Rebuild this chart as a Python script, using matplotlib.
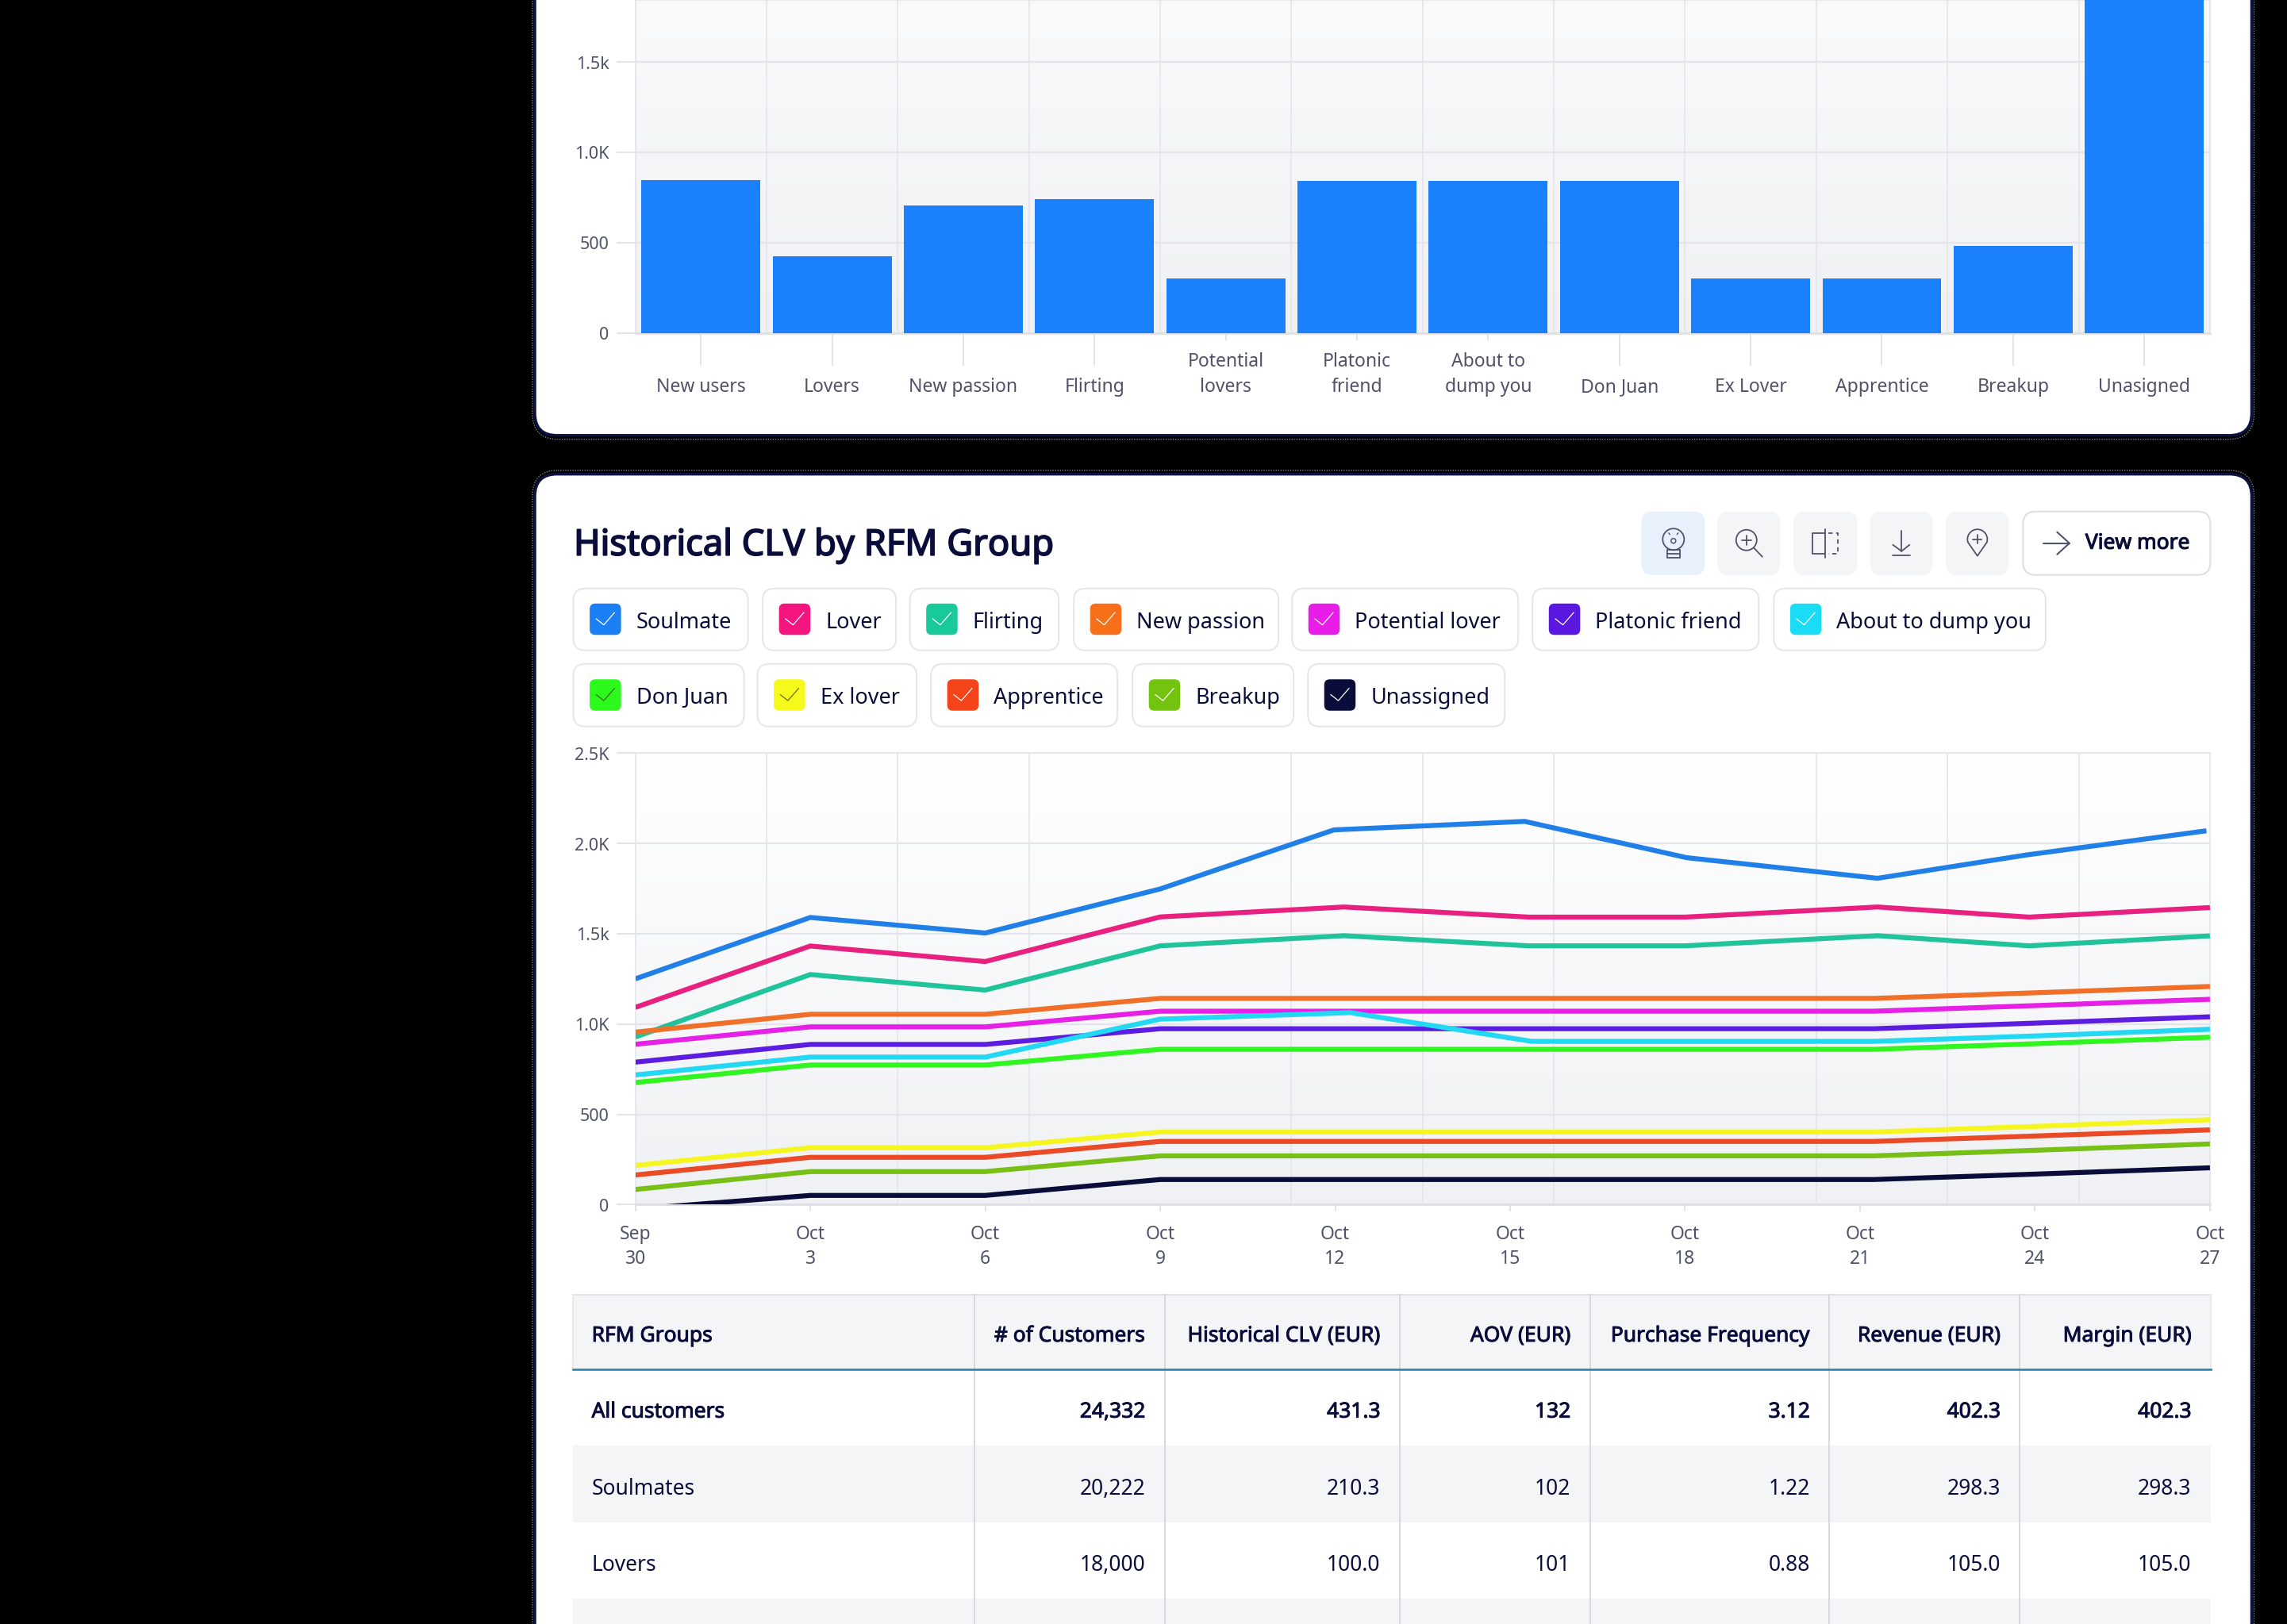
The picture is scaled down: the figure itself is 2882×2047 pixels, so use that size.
import numpy as np
import matplotlib
matplotlib.use("Agg")
import matplotlib.pyplot as plt
import matplotlib.patheffects as pe
from matplotlib.colors import LinearSegmentedColormap
from matplotlib.patches import FancyBboxPatch, Rectangle, Ellipse, Circle, Arc

plt.rcParams['font.family'] = ['Noto Sans', 'DejaVu Sans']

W, H = 2882, 2047
NAVY = "#0a0d3a"
GREY_TEXT = "#4f5269"
GRID = "#e4e5ea"
ICON = "#50536a"

# top chart
BAR_GROUPS = ["New users", "Lovers", "New passion", "Flirting", "Potential\nlovers", "Platonic\nfriend",
              "About to\ndump you", "Don Juan", "Ex Lover", "Apprentice", "Breakup", "Unasigned"]
BAR_VALUES = [848, 426, 707, 742, 303, 840, 840, 840, 303, 303, 480, 2000]
BAR_COLOR = "#1a80fb"
BAR_YTICKS = [0, 500, 1000, 1500]
BAR_YLABELS = ["0", "500", "1.0K", "1.5k"]

# bottom chart, days since Sep 30
DATE_TICKS = [0, 3, 6, 9, 12, 15, 18, 21, 24, 27]
DATE_LABELS = ["Sep\n30", "Oct\n3", "Oct\n6", "Oct\n9", "Oct\n12", "Oct\n15", "Oct\n18", "Oct\n21", "Oct\n24", "Oct\n27"]
LINE_YTICKS = [0, 500, 1000, 1500, 2000, 2500]
LINE_YLABELS = ["0", "500", "1.0K", "1.5k", "2.0K", "2.5K"]

DAYS_SOULMATE = [0, 3, 6, 9, 11.98, 15.25, 18.03, 21.3, 23.85, 26.94]
DAYS_LOVER = [0, 3, 6, 9, 12.15, 15.32, 18, 21.3, 23.9, 27]
DAYS_ABOUT = [0, 3, 6, 9, 12.26, 15.37, 18, 21.24, 24, 27]
DAYS_REST = [0, 3, 6, 9, 12, 15, 18, 21.24, 24, 27]

SOULMATE = [1250, 1590, 1504, 1748, 2075, 2122, 1921, 1807, 1936, 2070]
LOVER = [1092, 1432, 1346, 1593, 1648, 1592, 1592, 1648, 1592, 1645]
FLIRTING = [928, 1274, 1188, 1433, 1489, 1433, 1433, 1489, 1433, 1488]
NEW_PASSION = [955, 1054, 1054, 1142, 1142, 1142, 1142, 1142, 1173, 1208]
POTENTIAL = [888, 984, 984, 1071, 1071, 1071, 1071, 1071, 1102, 1137]
PLATONIC = [789, 887, 887, 974, 974, 974, 974, 974, 1005, 1040]
ABOUT = [718, 817, 817, 1027, 1063, 904, 904, 904, 934, 971]
DON_JUAN = [676, 773, 773, 860, 860, 860, 860, 860, 891, 927]
EX_LOVER = [217, 315, 315, 402, 402, 402, 402, 402, 433, 470]
APPRENTICE = [164, 262, 262, 350, 350, 350, 350, 350, 380, 414]
BREAKUP = [84, 183, 183, 270, 270, 270, 270, 270, 301, 336]
UNASSIGNED = [-25, 51, 51, 139, 139, 139, 139, 139, 169, 204]

SERIES = [
    (DAYS_SOULMATE, SOULMATE, "#2180e8"),
    (DAYS_LOVER, LOVER, "#e8207f"),
    (DAYS_LOVER, FLIRTING, "#20c39a"),
    (DAYS_REST, NEW_PASSION, "#f0702a"),
    (DAYS_REST, POTENTIAL, "#e620e6"),
    (DAYS_REST, PLATONIC, "#5c1de0"),
    (DAYS_ABOUT, ABOUT, "#22d8f2"),
    (DAYS_REST, DON_JUAN, "#30f520"),
    (DAYS_REST, EX_LOVER, "#f5f520"),
    (DAYS_REST, APPRENTICE, "#ea4a25"),
    (DAYS_REST, BREAKUP, "#78bf18"),
    (DAYS_REST, UNASSIGNED, NAVY),
]

# legend chips
CHIP_NAMES = [["Soulmate", "Lover", "Flirting", "New passion", "Potential lover", "Platonic friend", "About to dump you"],
              ["Don Juan", "Ex lover", "Apprentice", "Breakup", "Unassigned"]]
CHIP_COLORS = [["#1b80f5", "#f5157f", "#18c99b", "#f77019", "#e81de8", "#5a17e0", "#1adcf5"],
               ["#2bfa1a", "#f5fa1a", "#f5431a", "#74c40f", NAVY]]
CHIP_EDGES = [[(722.5, 942.5), (961, 1129), (1146.5, 1334), (1353, 1611), (1628, 1913), (1931, 2216), (2235, 2577.5)],
              [(722.5, 937.5), (954.5, 1155), (1173, 1408), (1427, 1630), (1648, 1896)]]
CHIP_ROWS = [(742, 820), (837, 916)]

# table
TABLE_COLUMNS = ["RFM Groups", "# of Customers", "Historical CLV (EUR)", "AOV (EUR)", "Purchase Frequency", "Revenue (EUR)", "Margin (EUR)"]
TABLE_ROWS = [
    ["All customers", "24,332", "431.3", "132", "3.12", "402.3", "402.3"],
    ["Soulmates", "20,222", "210.3", "102", "1.22", "298.3", "298.3"],
    ["Lovers", "18,000", "100.0", "101", "0.88", "105.0", "105.0"],
]
COL_EDGES = [721.5, 1227.5, 1467.5, 1763.5, 2003.5, 2305, 2545, 2785.5]
ROW_EDGES = [1632, 1726, 1822.5, 1919, 2015, 2060]

fig = plt.figure(figsize=((W + 0.4) / 100, (H + 0.4) / 100), dpi=100, facecolor="black")

bg = fig.add_axes([0, 0, 1, 1], zorder=0)
bg.set_xlim(0, W)
bg.set_ylim(H, 0)
bg.axis("off")


def round_box(x0, y0, x1, y1, r, fc, ec="none", lw=0, ls="-", z=1):
    p = FancyBboxPatch((x0 + r, y0 + r), x1 - x0 - 2 * r, y1 - y0 - 2 * r, boxstyle=f"round,pad={r},rounding_size={r}",
                       fc=fc, ec=ec, lw=lw, ls=ls, zorder=z)
    bg.add_patch(p)
    return p


def icon_line(xs, ys, lw=1.3, color=ICON):
    bg.plot(xs, ys, color=color, lw=lw, solid_capstyle="round", zorder=4)


def label(x, y, s, size=19, heavy=0, ha="left", z=6):
    # Noto Sans only has the regular weight here, so thicken it with a stroke
    t = bg.text(x, y + 4, s, fontsize=size, color=NAVY, va="center", ha=ha, zorder=z)
    if heavy:
        t.set_path_effects([pe.withStroke(linewidth=heavy, foreground=NAVY)])
    return t


def chart_axes(left, top, right, bottom):
    return fig.add_axes([left / W, 1 - bottom / H, (right - left) / W, (bottom - top) / H], zorder=2)


def style_chart(ax, start="#ffffff"):
    grad = LinearSegmentedColormap.from_list("plotbg", [start, "#f0f1f4"])
    ax.imshow(np.linspace(0, 1, 256).reshape(-1, 1), cmap=grad, extent=[0, 1, 0, 1], transform=ax.transAxes,
              aspect="auto", zorder=0)
    ax.set_axisbelow(True)
    ax.grid(True, axis="y", color=GRID, lw=1.6)
    ax.grid(True, axis="x", which="minor", color=GRID, lw=1.2)
    ax.grid(False, axis="x", which="major")
    ax.tick_params(axis="x", which="minor", length=0)
    ax.tick_params(axis="y", length=17.3, width=1.4, color=GRID, pad=6.5, labelsize=15.5, labelcolor=GREY_TEXT)
    for name, spine in ax.spines.items():
        spine.set_color(GRID)
        spine.set_linewidth(1.2)
    ax.spines["bottom"].set_linewidth(2)
    ax.spines["bottom"].set_color("#dfe0e5")


# the two cards
for top, bottom in [(-80, 549), (598, H + 80)]:
    round_box(671, top - 5, 2840, bottom + 5, 32, "none", ec="#7b7f98", lw=1, ls=(0, (1, 1.2)))
    round_box(674, top, 2837, bottom, 28, "white", ec="#0d1140", lw=2.4, z=1.5)

# top bars
ax1 = chart_axes(800.5, 0, 2784.5, 420)
style_chart(ax1, start="#fafafb")
ax1.bar(range(len(BAR_VALUES)), BAR_VALUES, width=0.907, color=BAR_COLOR, zorder=3)
ax1.set_xlim(-0.5, len(BAR_VALUES) - 0.5)
ax1.set_ylim(0, 1845)
ax1.set_yticks(BAR_YTICKS, BAR_YLABELS)
ax1.set_xticks(np.arange(-0.5, len(BAR_VALUES)), minor=True)
ax1.set_xticks(range(len(BAR_GROUPS)), BAR_GROUPS)
ax1.tick_params(axis="x", length=29.5, width=1.1, color="#d9dbe0", pad=28, labelsize=16.5, labelcolor=GREY_TEXT)
for tick, name in zip(ax1.xaxis.get_major_ticks(), BAR_GROUPS):
    tick.label1.set_verticalalignment("bottom")
    tick.label1.set_linespacing(1.42)
    if "\n" in name:
        tick.tick1line.set_markersize(6.5)

# title and buttons
label(723, 684, "Historical CLV by RFM Group", size=32.6, heavy=1.3, z=4)
round_box(2068, 645, 2148, 725, 14, "#e8f1fb", z=3)
for x0, x1 in [(2164, 2243), (2260, 2340), (2356.5, 2435), (2452, 2531)]:
    round_box(x0, 645, x1, 725, 14, "#f4f5f7", z=3)
round_box(2549, 645, 2785, 725, 16, "white", ec="#dfe0e5", lw=1.6, z=3)
label(2627.5, 681, "View more", size=19, heavy=0.8, z=4)
icon_line([2575, 2607.5], [685, 685], lw=1.5)
icon_line([2592, 2607.5, 2592], [671, 685, 699], lw=1.5)

# bulb
bg.add_patch(Ellipse((2108.5, 680), 27, 27, fc="none", ec=ICON, lw=1.3, zorder=4))
bg.add_patch(Rectangle((2100.5, 693), 16, 10, fc="none", ec=ICON, lw=1.3, zorder=4))
icon_line([2100.5, 2116.5], [698, 698])
bg.add_patch(Circle((2108.5, 682), 3, fc="none", ec=ICON, lw=1.1, zorder=4))
icon_line([2104, 2102.5], [674, 672], lw=1)
icon_line([2113, 2114.5], [674, 672], lw=1)
# zoom
bg.add_patch(Circle((2200.5, 681), 13, fc="none", ec=ICON, lw=1.3, zorder=4))
icon_line([2210, 2220.5], [691, 702])
icon_line([2194.5, 2206.5], [681, 681])
icon_line([2200.5, 2200.5], [675, 687])
# compare
icon_line([2299.5, 2299.5], [667, 703])
icon_line([2299.5, 2284, 2284, 2299.5], [672, 672, 698, 698])
bg.plot([2304, 2316, 2316, 2304], [672, 672, 698, 698], color=ICON, lw=1.3, ls=(0, (3, 2.5)), zorder=4)
# download
icon_line([2396, 2396], [669, 695])
icon_line([2385, 2396, 2406], [687, 695, 687])
icon_line([2385, 2407], [700, 700])
# pin
bg.add_patch(Arc((2491.5, 680), 25, 25, theta1=160, theta2=20, ec=ICON, lw=1.3, zorder=4))
icon_line([2479.7, 2491.5, 2503.3], [684, 701, 684])
icon_line([2486, 2497], [680, 680])
icon_line([2491.5, 2491.5], [674.5, 685.5])

# legend
for names, colors, edges, (y0, y1) in zip(CHIP_NAMES, CHIP_COLORS, CHIP_EDGES, CHIP_ROWS):
    for name, color, (x0, x1) in zip(names, colors, edges):
        round_box(x0, y0, x1, y1, 15, "white", ec="#e6e7ea", lw=1.5, z=3)
        sx, sy, s = x0 + 20.5, (y0 + y1) / 2 - 20, 39.5
        round_box(sx, sy, sx + s, sy + s, 7, color, z=4)
        check = "#3a6a30" if name == "Don Juan" else ("#6a6a20" if name == "Ex lover" else "#ffffff")
        bg.plot([sx + 0.21 * s, sx + 0.45 * s, sx + 0.79 * s], [sy + 0.49 * s, sy + 0.68 * s, sy + 0.29 * s],
                color=check, lw=0.9, zorder=5)
        label(x0 + 79, (y0 + y1) / 2 - 0.5, name, size=19.5, z=5)

# line chart
ax2 = chart_axes(800.5, 949.5, 2784.5, 1518.5)
style_chart(ax2)
for days, values, color in SERIES:
    ax2.plot(days, values, color=color, lw=4.5, solid_capstyle="butt", solid_joinstyle="miter", zorder=3)
ax2.set_xlim(0, 27)
ax2.set_ylim(0, 2500)
ax2.set_yticks(LINE_YTICKS, LINE_YLABELS)
ax2.set_xticks(np.arange(0, 27.01, 2.25), minor=True)
ax2.set_xticks(DATE_TICKS, DATE_LABELS)
ax2.tick_params(axis="x", length=6.5, width=1.1, color="#d9dbe0", pad=11.5, labelsize=16.5, labelcolor=GREY_TEXT)
for tick in ax2.xaxis.get_major_ticks():
    tick.label1.set_linespacing(1.42)

# table
bg.add_patch(Rectangle((COL_EDGES[0], ROW_EDGES[0]), COL_EDGES[-1] - COL_EDGES[0], ROW_EDGES[1] - ROW_EDGES[0],
                       fc="#f4f5f7", ec="none", zorder=3))
for i in [1, 3]:
    bg.add_patch(Rectangle((COL_EDGES[0], ROW_EDGES[i + 1]), COL_EDGES[-1] - COL_EDGES[0], ROW_EDGES[i + 2] - ROW_EDGES[i + 1],
                           fc="#f4f5f7", ec="none", zorder=3))
bg.plot([COL_EDGES[0], COL_EDGES[-1]], [ROW_EDGES[0], ROW_EDGES[0]], color="#dfe0e4", lw=1.3, zorder=4)
bg.plot([COL_EDGES[0], COL_EDGES[0]], [ROW_EDGES[0], ROW_EDGES[1]], color="#e4e5e9", lw=1.2, zorder=4)
bg.plot([COL_EDGES[-1], COL_EDGES[-1]], [ROW_EDGES[0], ROW_EDGES[1]], color="#e4e5e9", lw=1.2, zorder=4)
for x in COL_EDGES[1:-1]:
    bg.plot([x, x], [ROW_EDGES[0], H + 5], color="#d5d7dc", lw=1.3, zorder=4)
bg.plot([COL_EDGES[0], COL_EDGES[-1]], [ROW_EDGES[1], ROW_EDGES[1]], color="#2c84aa", lw=1.9, zorder=5)

for c, name in enumerate(TABLE_COLUMNS):
    if c == 0:
        label(COL_EDGES[0] + 24, 1680, name, heavy=0.7)
    else:
        label(COL_EDGES[c + 1] - 24.5, 1680, name, heavy=0.7, ha="right")
for r, row in enumerate(TABLE_ROWS):
    y = (ROW_EDGES[r + 1] + ROW_EDGES[r + 2]) / 2 + 1.5
    heavy = 0.7 if r == 0 else 0
    for c, val in enumerate(row):
        if c == 0:
            label(COL_EDGES[0] + 24, y, val, heavy=heavy)
        else:
            label(COL_EDGES[c + 1] - 24.5, y, val, heavy=heavy, ha="right")

fig.savefig("out.png", dpi=100, facecolor="black")
